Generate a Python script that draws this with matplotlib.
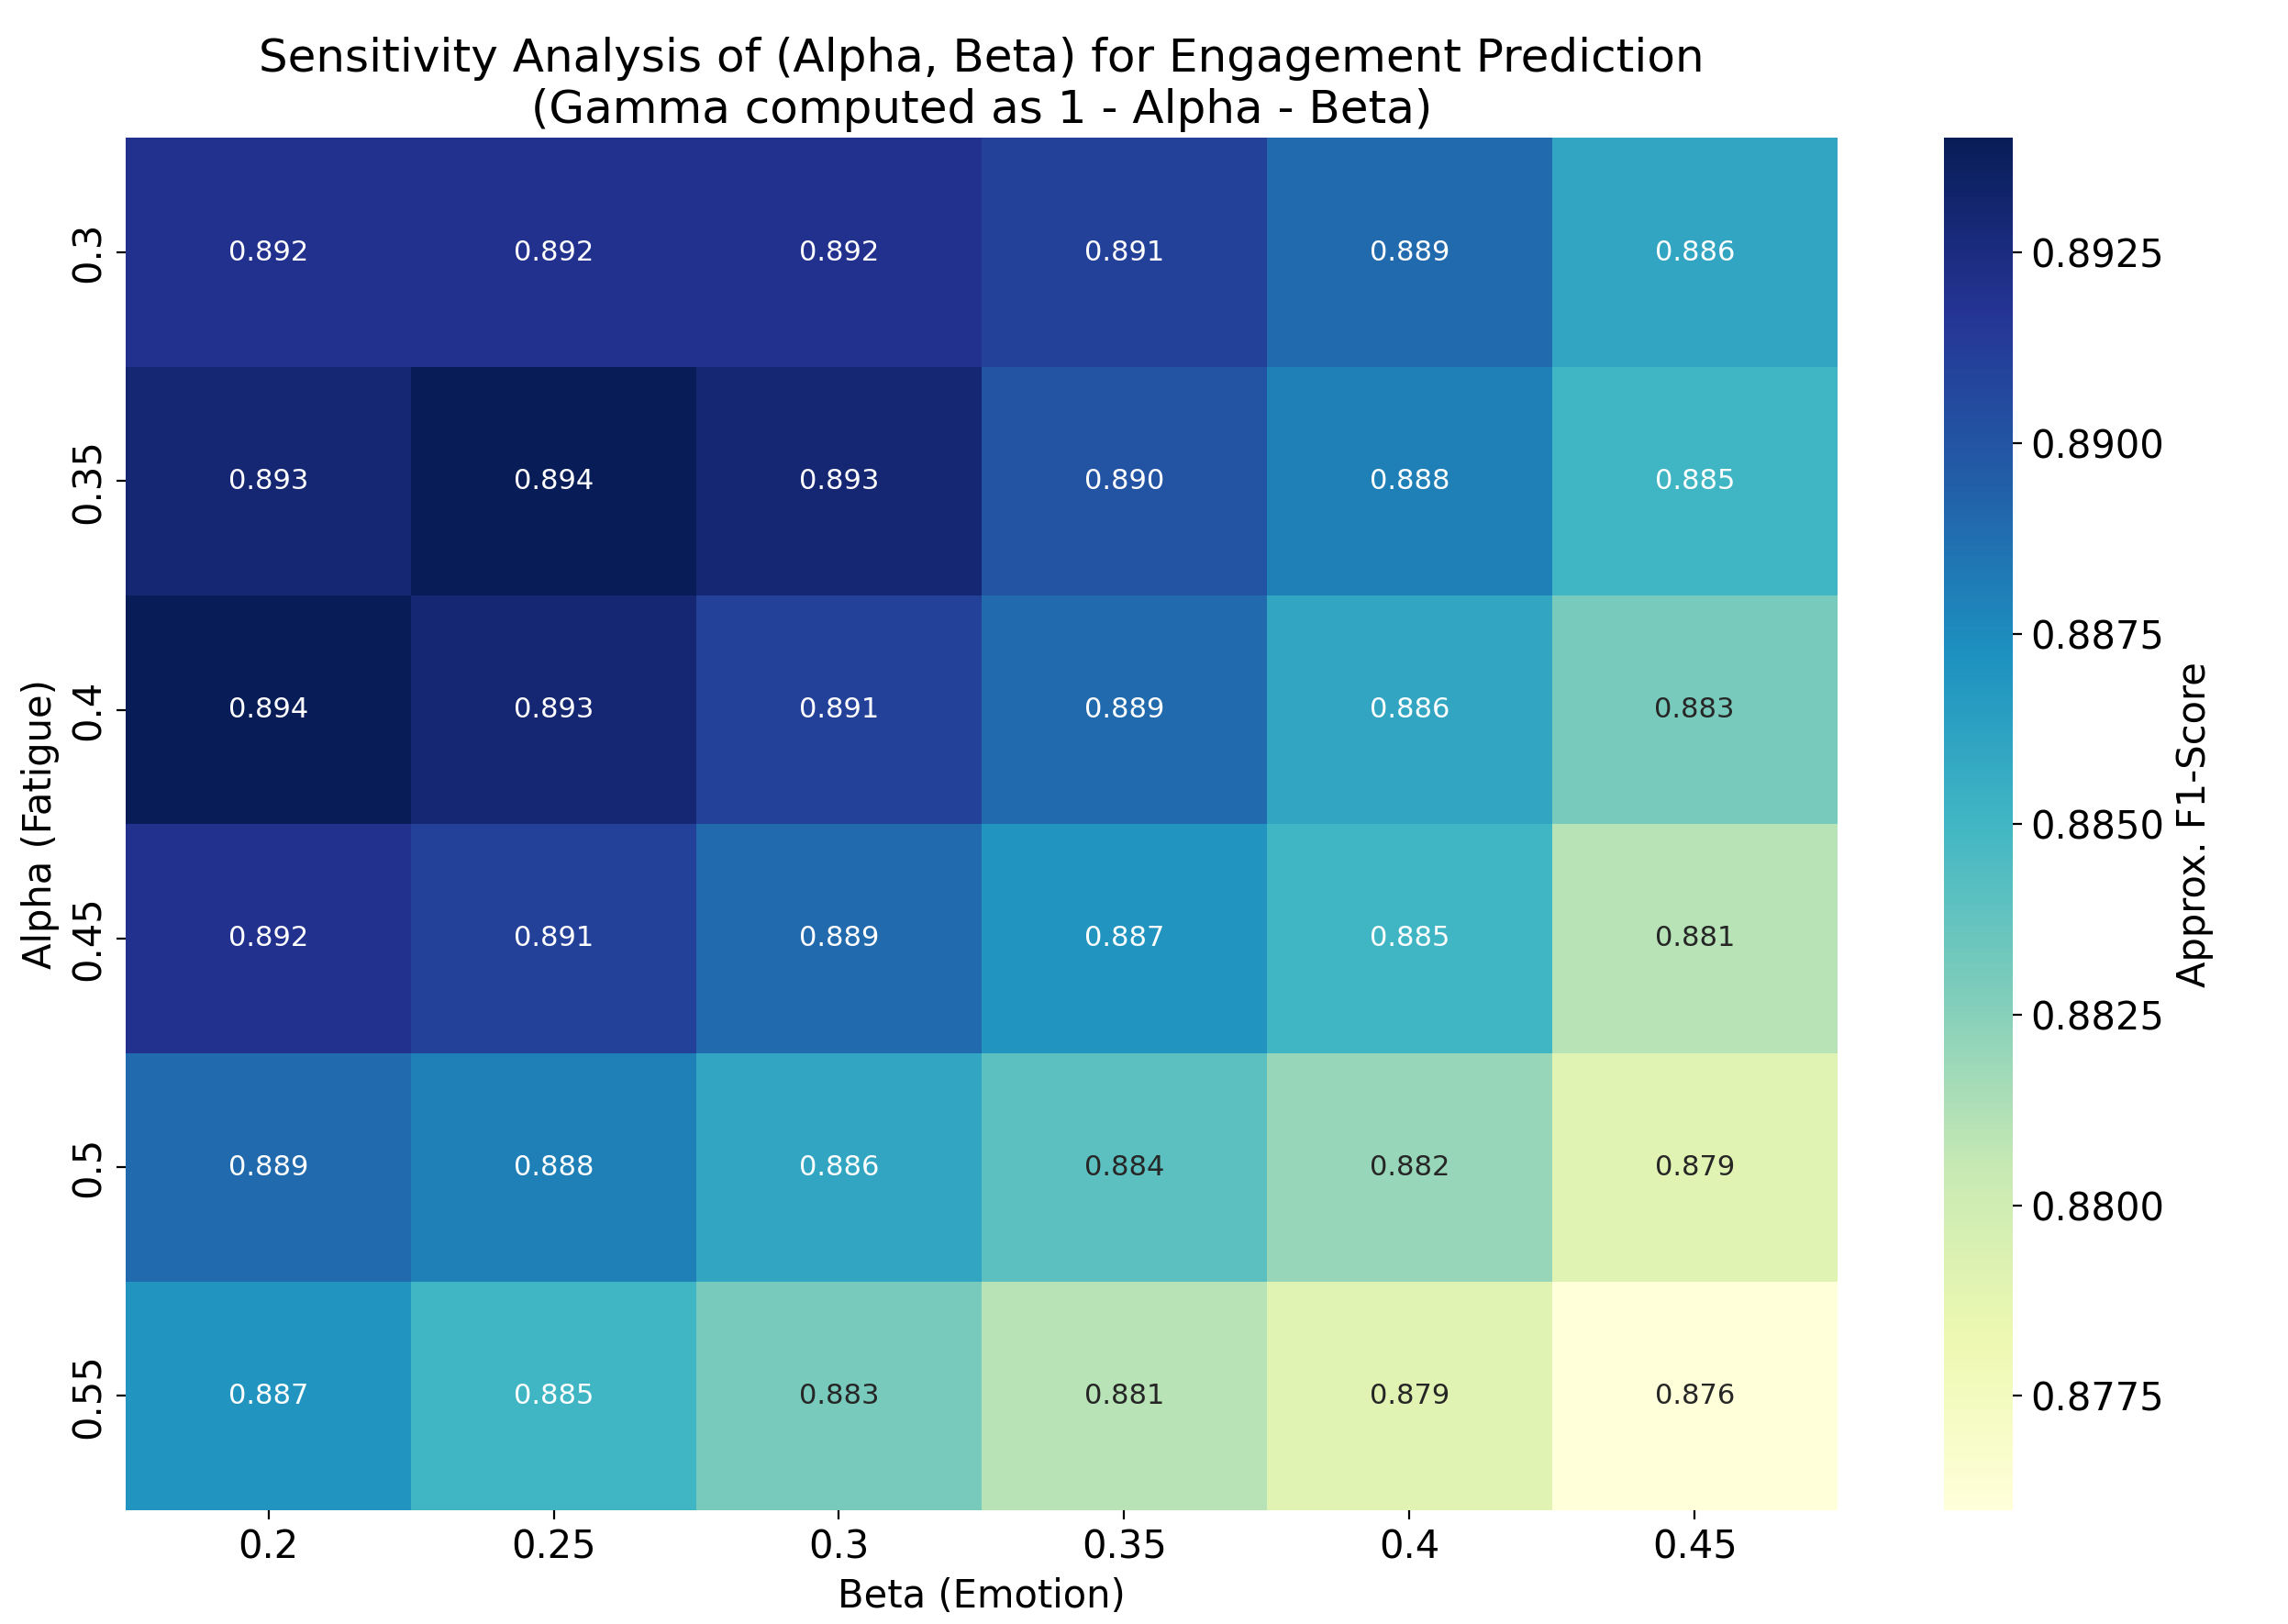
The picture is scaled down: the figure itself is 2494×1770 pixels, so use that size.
import numpy as np
import pandas as pd
import matplotlib
matplotlib.use("Agg")
import matplotlib.pyplot as plt
import seaborn as sns

# 축 값
beta_vals = [0.2, 0.25, 0.3, 0.35, 0.4, 0.45]
alpha_vals = [0.3, 0.35, 0.4, 0.45, 0.5, 0.55]

# F1 점수
row_03 = [0.892, 0.892, 0.892, 0.891, 0.889, 0.886]
row_035 = [0.893, 0.894, 0.893, 0.890, 0.888, 0.885]
row_04 = [0.894, 0.893, 0.891, 0.889, 0.886, 0.883]
row_045 = [0.892, 0.891, 0.889, 0.887, 0.885, 0.881]
row_05 = [0.889, 0.888, 0.886, 0.884, 0.882, 0.879]
row_055 = [0.887, 0.885, 0.883, 0.881, 0.879, 0.876]

df = pd.DataFrame([row_03, row_035, row_04, row_045, row_05, row_055],
                  index=alpha_vals, columns=beta_vals)

fig, ax = plt.subplots(figsize=(12.47, 8.85), dpi=200)
sns.heatmap(df, annot=True, fmt=".3f", cmap="YlGnBu", ax=ax,
            vmin=0.876, vmax=0.894,
            annot_kws={"fontsize": 11},
            cbar_kws={"label": "Approx. F1-Score",
                      "ticks": [0.8775, 0.88, 0.8825, 0.885, 0.8875, 0.89, 0.8925]})
cbar = ax.collections[0].colorbar
cbar.ax.tick_params(labelsize=15)
cbar.set_label("Approx. F1-Score", fontsize=15)
cbar.ax.yaxis.set_major_formatter(matplotlib.ticker.FormatStrFormatter("%.4f"))

ax.set_xticklabels([str(b) for b in beta_vals], fontsize=15)
ax.set_yticklabels([str(a) for a in alpha_vals], fontsize=15, rotation=90, va="center")
ax.set_xlabel("Beta (Emotion)", fontsize=15)
ax.set_ylabel("Alpha (Fatigue)", fontsize=15)
ax.set_title("Sensitivity Analysis of (Alpha, Beta) for Engagement Prediction\n(Gamma computed as 1 - Alpha - Beta)",
             fontsize=18)

plt.subplots_adjust(left=0.055, right=0.99, top=0.915, bottom=0.07)
plt.savefig("out.png", dpi=200)
